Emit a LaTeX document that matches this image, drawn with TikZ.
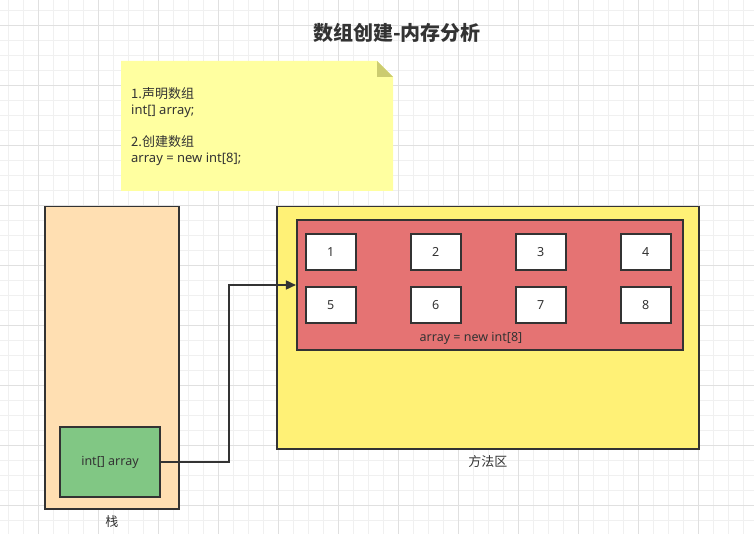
\documentclass[tikz,border=0pt]{standalone}
\usepackage{fontspec}
\newfontfamily\cjk{Noto Sans CJK SC}
\newfontfamily\lat{Noto Sans}
\usepackage{tikz}
\usetikzlibrary{arrows.meta, positioning}
\usepackage{xcolor}

\definecolor{linec}{HTML}{333333}
\definecolor{stackc}{HTML}{FFDFB2}
\definecolor{varc}{HTML}{81C784}
\definecolor{heapc}{HTML}{FFF176}
\definecolor{arrc}{HTML}{E57373}
\definecolor{notec}{HTML}{FFFFA0}
\definecolor{foldc}{HTML}{CCCC70}

\tikzset{
  txt/.style={font=\cjk\fontsize{13}{16}\selectfont, text=linec, inner sep=0pt},
  ltxt/.style={txt, font=\lat\fontsize{12.5}{16}\selectfont},
  box/.style={ltxt, draw=linec, line width=1.6pt},
  cell/.style={box, fill=white, minimum width=50, minimum height=36},
  conn/.style={draw=linec, line width=1.6pt, -{Triangle[length=10pt, width=9pt]}},
}

\begin{document}
\begin{tikzpicture}[x=1pt, y=-1pt]
    \useasboundingbox (0,0) rectangle (754,534);
    % grid
    \foreach \x in {8.3,23.3,...,754} \draw[black!6, line width=0.8pt] (\x,0) -- (\x,534);
    \foreach \y in {10,25,...,534} \draw[black!6, line width=0.8pt] (0,\y) -- (754,\y);
    \foreach \x in {38.3,98.3,...,754} \draw[black!12, line width=0.8pt] (\x,0) -- (\x,534);
    \foreach \y in {25,85,...,534} \draw[black!12, line width=0.8pt] (0,\y) -- (754,\y);

    \node[txt, font=\cjk\bfseries\fontsize{20}{22}\selectfont] (title) at (397,33) {数组创建-内存分析};

    % note
    \fill[notec] (121,61) -- (377,61) -- (393,77) -- (393,191) -- (121,191) -- cycle;
    \fill[foldc] (377,61) -- (393,77) -- (377,77) -- cycle;
    \node[txt, anchor=north west, align=left] (note) at (131,87.5)
        {1.声明数组\\{\lat int[] array;}\\[16pt]2.创建数组\\{\lat array = new int[8];}};

    \node[box, fill=stackc, minimum width=134.3, minimum height=302] (stack) at (111.9,357.7) {};
    \node[txt, below=6pt of stack] (stacklbl) {栈};
    \node[box, fill=varc, minimum width=100, minimum height=70] (var) at (110,462) {int[] array};

    \node[box, fill=heapc, minimum width=422.3, minimum height=242] (heap) at (487.9,327.7) {};
    \node[txt, below=6pt of heap] (heaplbl) {方法区};
    \node[box, fill=arrc, minimum width=386.3, minimum height=130] (arr) at (489.9,285) {};
    \node[ltxt] (arrlbl) at (471,338) {array = new int[8]};

    \foreach \i in {1,...,4} {
        \node[cell] (c\i) at ({330.7+105*(\i-1)},252) {\i};
        \pgfmathtruncatemacro\j{\i+4}
        \node[cell] (c\j) at ({330.7+105*(\i-1)},305) {\j};
    }

    \draw[conn] (var.east) -- ++(68.3,0) |- (arr.west);
\end{tikzpicture}
\end{document}
